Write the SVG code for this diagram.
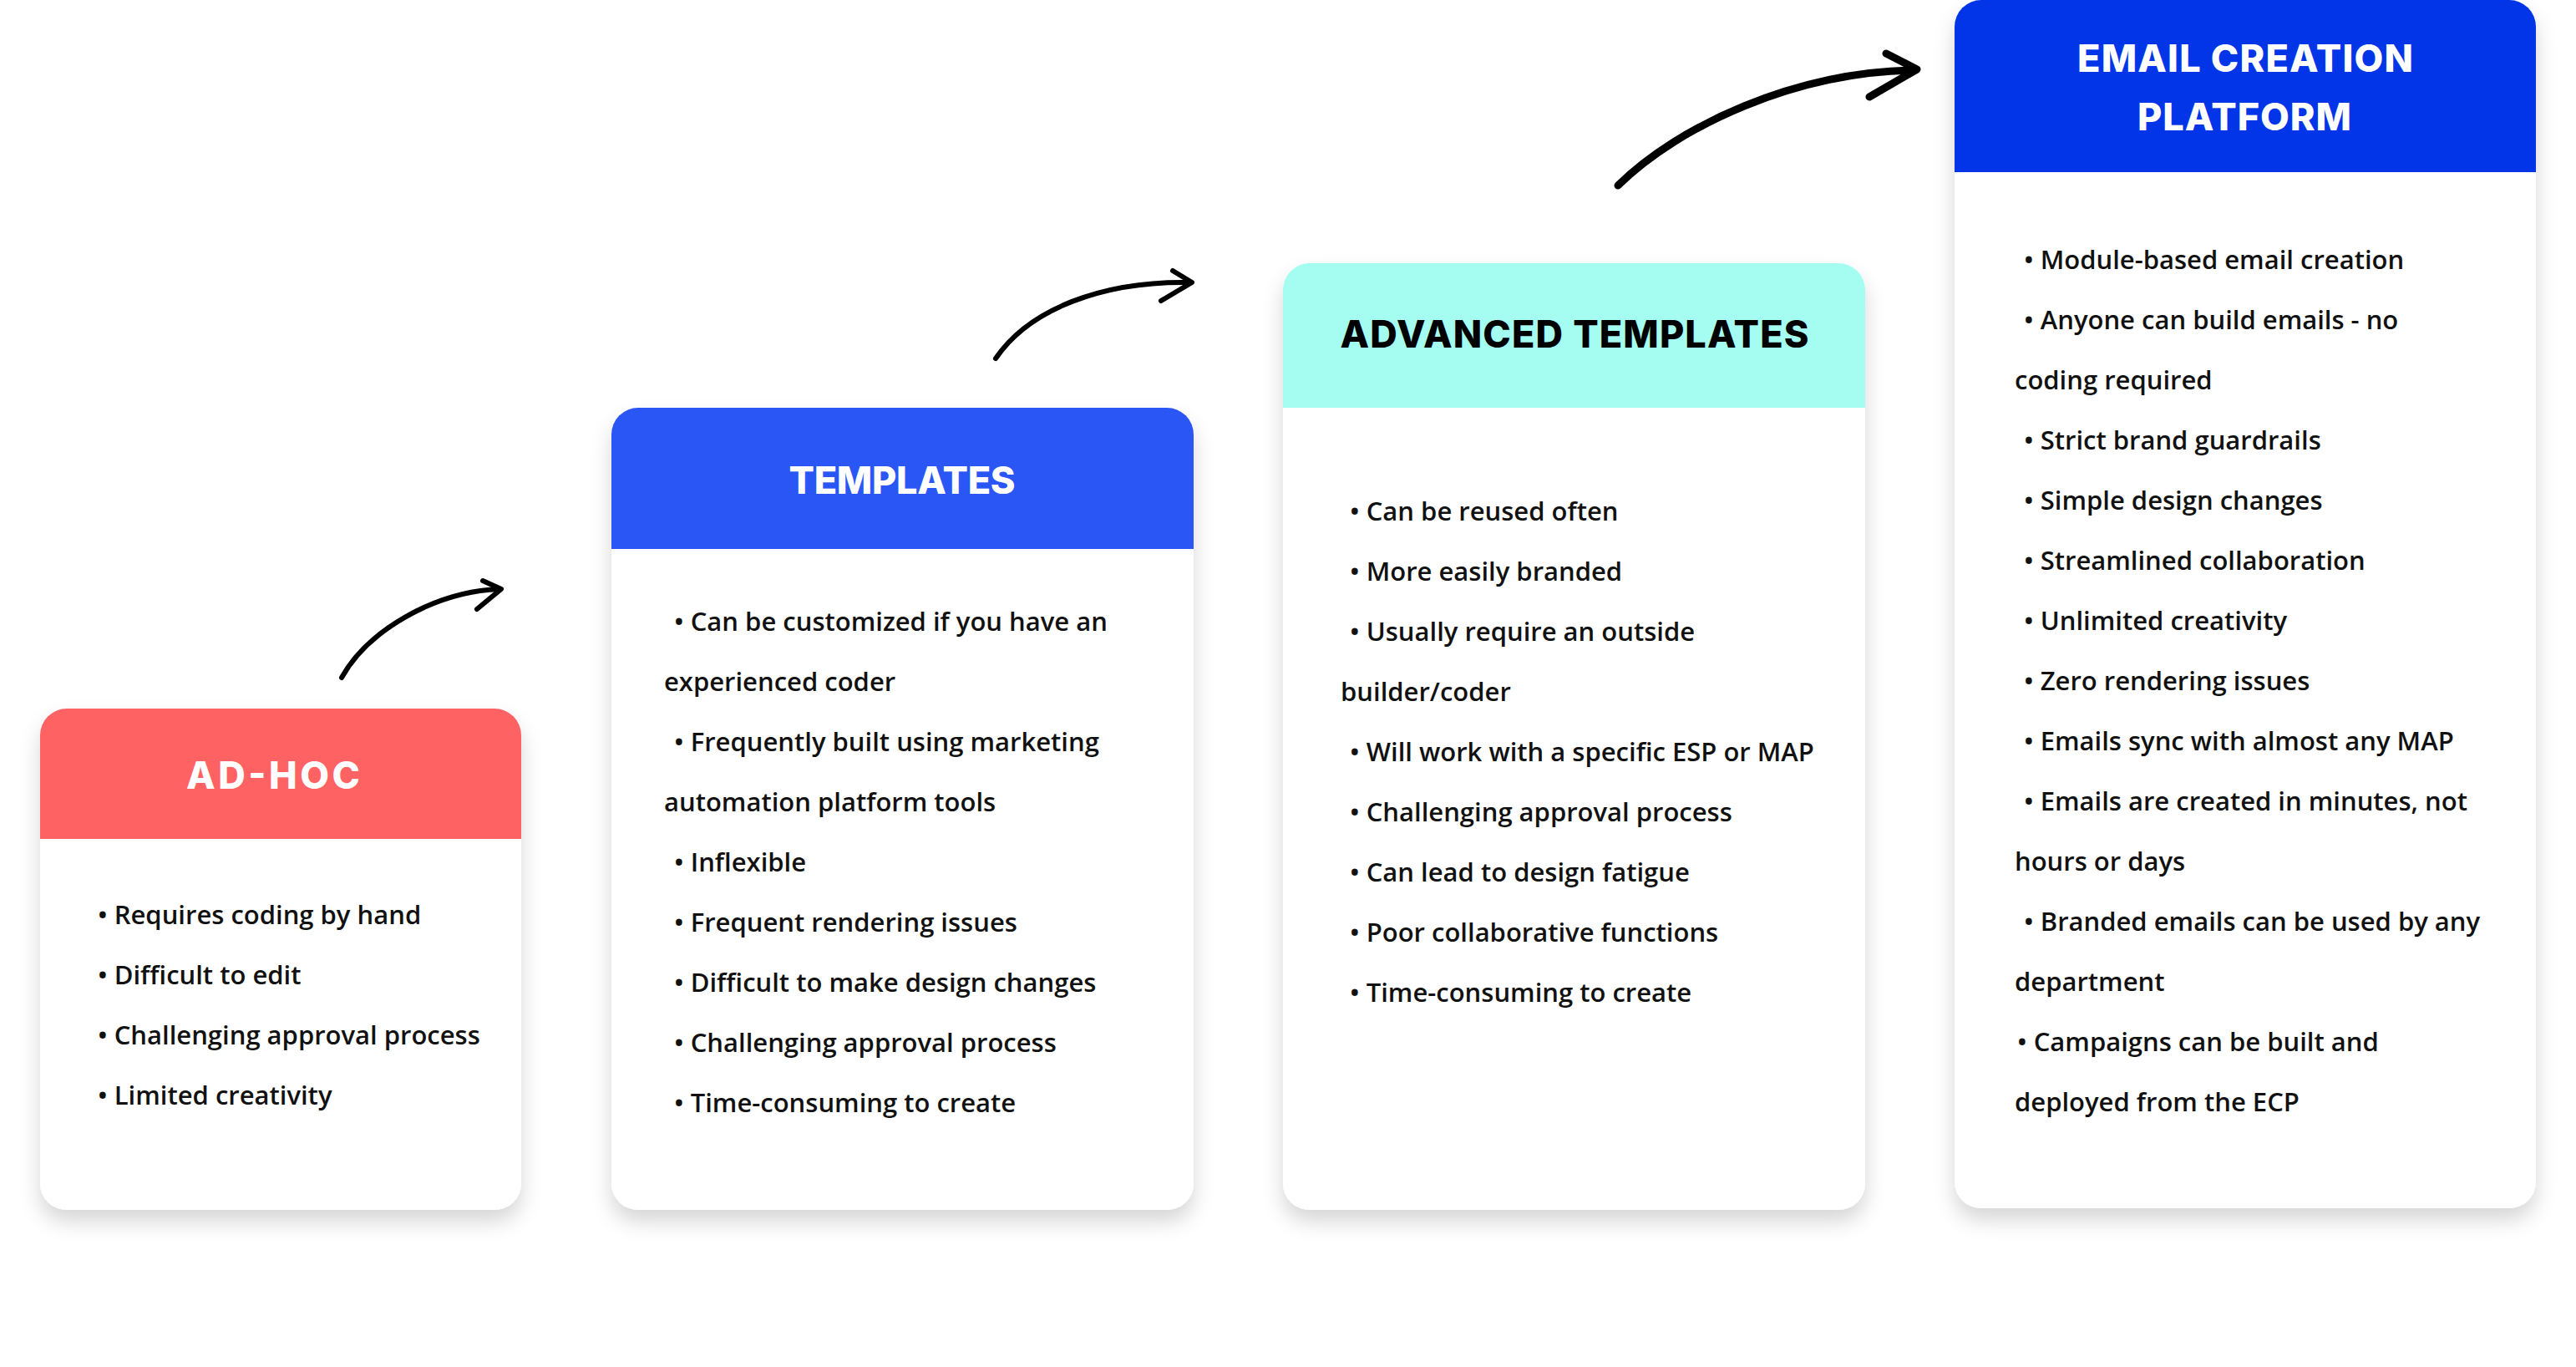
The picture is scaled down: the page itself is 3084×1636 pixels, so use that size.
<svg xmlns="http://www.w3.org/2000/svg" width="3084" height="1636" viewBox="0 0 3084 1636">
<defs>
<filter id="shadow" x="-10%" y="-10%" width="120%" height="125%">
<feDropShadow dx="0" dy="14" stdDeviation="12" flood-color="#000" flood-opacity="0.16"/>
</filter>
<style>
.card{fill:#fff;filter:url(#shadow)}
.title{font-family:Inter,"Liberation Sans",sans-serif;font-weight:800;font-size:45px;text-anchor:middle}
.body{font-family:"Open Sans","Noto Sans",sans-serif;font-weight:600;font-size:31px;fill:#111}
.arrow{fill:none;stroke:#000;stroke-linecap:round;stroke-linejoin:round}
</style>
</defs>
<rect width="3084" height="1636" fill="#fff"/>

<g id="connectors">
<path class="arrow" stroke-width="6" d="M409 811 C440 755 520 708 598 705"/>
<path class="arrow" stroke-width="6" d="M578 695 L600 705 L571 729"/>
<path class="arrow" stroke-width="6" d="M1192 429 C1232 370 1320 336 1425 338"/>
<path class="arrow" stroke-width="6" d="M1404 324 L1427 338 L1390 360"/>
<path class="arrow" stroke-width="9" d="M1937 222 C2010 150 2150 86 2292 84"/>
<path class="arrow" stroke-width="9" d="M2258 64 L2295 83 L2238 116"/>
</g>

<g id="adhoc">
<rect class="card" x="48" y="848" width="576" height="600" rx="32"/>
<path d="M48 1004 V880 A32 32 0 0 1 80 848 H592 A32 32 0 0 1 624 880 V1004 Z" fill="#FF6262"/>
<text class="title" x="327" y="944" fill="#fff" textLength="208">AD-HOC</text>
<text class="body" x="117" y="1106">• Requires coding by hand</text>
<text class="body" x="117" y="1178">• Difficult to edit</text>
<text class="body" x="117" y="1250">• Challenging approval process</text>
<text class="body" x="117" y="1322">• Limited creativity</text>
</g>

<g id="templates">
<rect class="card" x="732" y="488" width="697" height="960" rx="32"/>
<path d="M732 657 V520 A32 32 0 0 1 764 488 H1397 A32 32 0 0 1 1429 520 V657 Z" fill="#2A56F6"/>
<text class="title" x="1080" y="591" fill="#fff" textLength="271">TEMPLATES</text>
<text class="body" x="807" y="755">• Can be customized if you have an</text>
<text class="body" x="795" y="827">experienced coder</text>
<text class="body" x="807" y="899">• Frequently built using marketing</text>
<text class="body" x="795" y="971">automation platform tools</text>
<text class="body" x="807" y="1043">• Inflexible</text>
<text class="body" x="807" y="1115">• Frequent rendering issues</text>
<text class="body" x="807" y="1187">• Difficult to make design changes</text>
<text class="body" x="807" y="1259">• Challenging approval process</text>
<text class="body" x="807" y="1331">• Time-consuming to create</text>
</g>

<g id="advanced-templates">
<rect class="card" x="1536" y="315" width="697" height="1133" rx="32"/>
<path d="M1536 488 V347 A32 32 0 0 1 1568 315 H2201 A32 32 0 0 1 2233 347 V488 Z" fill="#A4FDF0"/>
<text class="title" x="1885" y="416" fill="#000" textLength="561">ADVANCED TEMPLATES</text>
<text class="body" x="1616" y="623">• Can be reused often</text>
<text class="body" x="1616" y="695">• More easily branded</text>
<text class="body" x="1616" y="767">• Usually require an outside</text>
<text class="body" x="1605" y="839">builder/coder</text>
<text class="body" x="1616" y="911">• Will work with a specific ESP or MAP</text>
<text class="body" x="1616" y="983">• Challenging approval process</text>
<text class="body" x="1616" y="1055">• Can lead to design fatigue</text>
<text class="body" x="1616" y="1127">• Poor collaborative functions</text>
<text class="body" x="1616" y="1199">• Time-consuming to create</text>
</g>

<g id="email-creation-platform">
<rect class="card" x="2340" y="0" width="696" height="1446" rx="32"/>
<path d="M2340 206 V32 A32 32 0 0 1 2372 0 H3004 A32 32 0 0 1 3036 32 V206 Z" fill="#0335E8"/>
<text class="title" x="2688" y="86" fill="#fff" textLength="402">EMAIL CREATION</text>
<text class="title" x="2687" y="156" fill="#fff" textLength="256">PLATFORM</text>
<text class="body" x="2423" y="322">• Module-based email creation</text>
<text class="body" x="2423" y="394">• Anyone can build emails - no</text>
<text class="body" x="2412" y="466">coding required</text>
<text class="body" x="2423" y="538">• Strict brand guardrails</text>
<text class="body" x="2423" y="610">• Simple design changes</text>
<text class="body" x="2423" y="682">• Streamlined collaboration</text>
<text class="body" x="2423" y="754">• Unlimited creativity</text>
<text class="body" x="2423" y="826">• Zero rendering issues</text>
<text class="body" x="2423" y="898">• Emails sync with almost any MAP</text>
<text class="body" x="2423" y="970">• Emails are created in minutes, not</text>
<text class="body" x="2412" y="1042">hours or days</text>
<text class="body" x="2423" y="1114">• Branded emails can be used by any</text>
<text class="body" x="2412" y="1186">department</text>
<text class="body" x="2415" y="1258">• Campaigns can be built and</text>
<text class="body" x="2412" y="1330">deployed from the ECP</text>
</g>
</svg>
